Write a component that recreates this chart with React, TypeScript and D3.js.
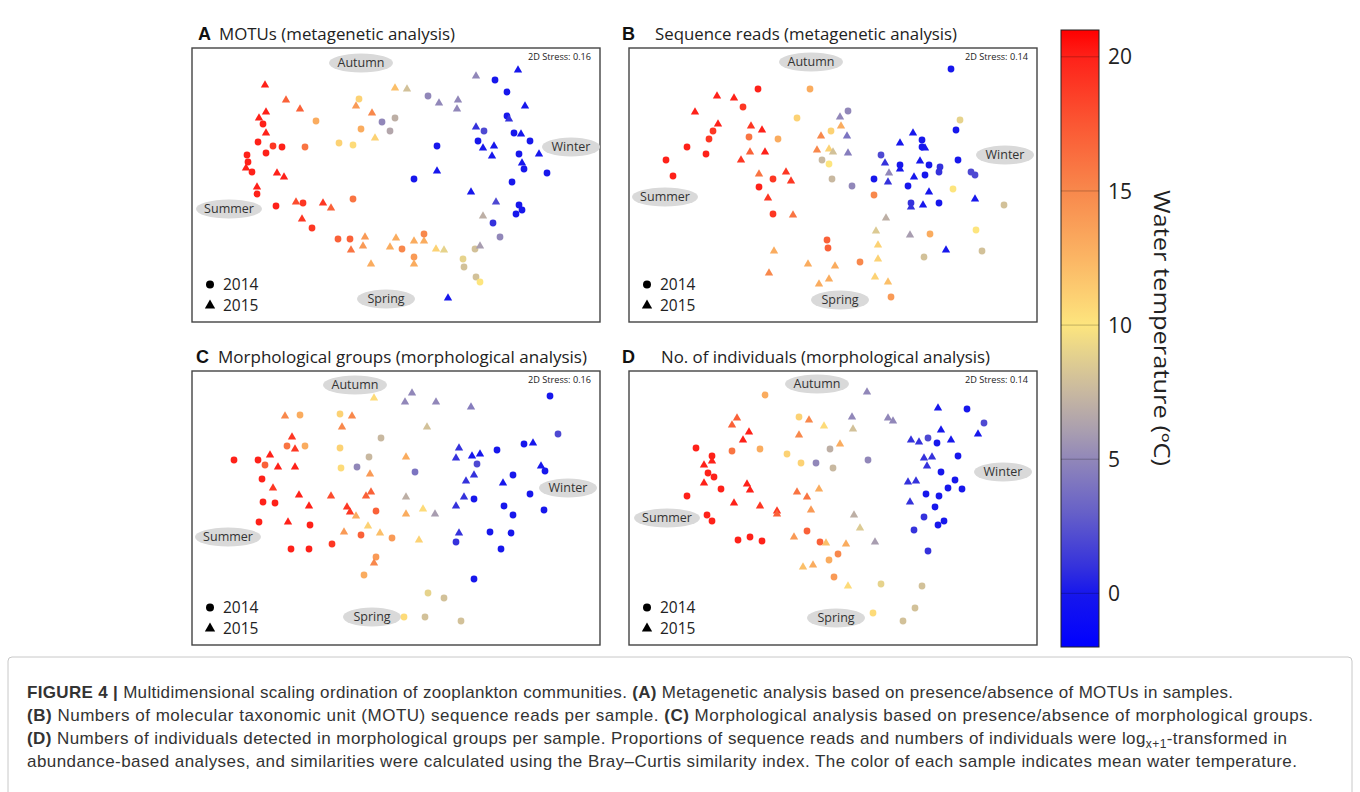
import React from 'react';
import * as d3 from 'd3';

// temperature colour ramp (°C)
const TEMP_STOPS = [-2, 0, 1, 3, 5, 6, 7.5, 9, 10, 12.5, 15, 17.5, 20, 21];
const TEMP_COLORS = ['#0000ff', '#1717ec', '#3532dc', '#6660c8', '#9187b9', '#a89db0', '#c8b8a0',
  '#e6d38c', '#fde57e', '#fbb564', '#f8884c', '#fb5733', '#fe2119', '#ff0000'];
const TEMP_TICKS = [0, 5, 10, 15, 20];
const TEMP_DOMAIN = [-2, 21];

// NMDS coordinates: [axis1, axis2, water temperature, year]
const mdsA = [
  [-1.31, 1.00, 20, 2015], [-1.10, 0.85, 17, 2015], [-0.96, 0.76, 17, 2015], [-1.30, 0.73, 20, 2015],
  [-1.37, 0.67, 20, 2015], [-1.33, 0.61, 20, 2014], [-1.30, 0.52, 20, 2015], [-0.80, 0.64, 13, 2014],
  [-0.37, 0.86, 11, 2014], [-0.40, 0.79, 14, 2015], [-0.24, 0.72, 15, 2015], [-0.14, 0.63, 5, 2014],
  [-0.01, 0.67, 7, 2014], [-0.06, 0.54, 6.5, 2014], [-0.21, 0.47, 11, 2015], [-0.35, 0.56, 13, 2014],
  [-0.57, 0.42, 11, 2014], [-0.43, 0.40, 10.5, 2014], [-0.01, 0.97, 12, 2015], [-1.38, 0.43, 20, 2014],
  [-1.23, 0.39, 19, 2014], [-1.14, 0.38, 20, 2014], [-0.91, 0.38, 16, 2014], [-1.30, 0.32, 20, 2014],
  [-1.49, 0.30, 20, 2014], [-1.48, 0.23, 20, 2014], [-1.50, 0.17, 20, 2015], [-1.44, 0.13, 20, 2014],
  [-1.19, 0.12, 20, 2015], [-1.12, 0.08, 20, 2015], [-1.39, -0.02, 20, 2015], [-1.39, -0.09, 20, 2014],
  [-1.20, -0.21, 20, 2014], [-1.00, -0.17, 18, 2015], [-0.93, -0.18, 19, 2014], [-0.73, -0.18, 19, 2015],
  [-0.65, -0.23, 17, 2015], [-0.43, -0.14, 16, 2014], [-0.94, -0.34, 19, 2015], [-0.84, -0.43, 19, 2014],
  [-0.58, -0.54, 17, 2014], [-0.46, -0.54, 17, 2014], [-0.45, -0.65, 16, 2015], [-0.33, -0.61, 14, 2015],
  [-0.31, -0.52, 14, 2015], [-0.25, -0.79, 13, 2015], [-0.06, -0.62, 13, 2015], [0.00, -0.53, 13, 2015],
  [0.11, 0.96, 8, 2015], [0.32, 0.89, 5, 2014], [0.43, 0.82, 5, 2015], [0.62, 0.85, 5, 2015],
  [0.61, 0.76, 5, 2015], [0.80, 1.09, 5, 2015], [0.99, 1.05, 0, 2014], [1.22, 1.15, 0, 2015],
  [1.11, 0.93, 0, 2014], [1.29, 0.79, 0, 2015], [1.11, 0.69, 0, 2014], [1.13, 0.66, 1, 2015],
  [0.80, 0.58, 1, 2015], [0.88, 0.54, 2, 2014], [1.18, 0.52, 0, 2014], [1.25, 0.51, 0, 2015],
  [1.34, 0.44, 0, 2014], [0.82, 0.44, 0, 2014], [0.87, 0.37, 0, 2015], [0.98, 0.39, 0, 2015],
  [0.96, 0.29, 0, 2015], [1.23, 0.31, 0, 2014], [1.43, 0.31, 0, 2015], [1.26, 0.22, 0, 2015],
  [1.28, 0.16, 0, 2014], [1.51, 0.12, 0, 2014], [0.41, 0.39, 0, 2014], [0.41, 0.14, 0, 2015],
  [0.18, 0.06, 0, 2014], [1.16, 0.03, 0, 2014], [0.75, -0.07, 0, 2015], [1.00, -0.17, 2, 2015],
  [1.23, -0.20, 0, 2014], [1.26, -0.25, 0, 2014], [1.20, -0.29, 0, 2014], [0.87, -0.31, 7, 2015],
  [0.97, -0.38, 1, 2014], [1.04, -0.52, 5, 2014], [0.18, -0.56, 13, 2015], [0.28, -0.56, 13, 2015],
  [0.28, -0.49, 15, 2014], [0.06, -0.64, 15, 2014], [0.40, -0.64, 11, 2015], [0.48, -0.65, 9, 2015],
  [0.18, -0.72, 14, 2014], [0.18, -0.79, 13, 2015], [0.79, -0.64, 8, 2014], [0.84, -0.61, 6, 2015],
  [0.67, -0.74, 9, 2014], [0.68, -0.82, 8, 2014], [0.80, -0.92, 8, 2014], [0.84, -0.97, 10, 2014],
  [0.52, -1.13, 0, 2015],
];

const mdsB = [
  [-0.75, 0.96, 20, 2014], [-0.23, 0.96, 13, 2014], [-1.16, 0.89, 20, 2015], [-0.99, 0.87, 20, 2015],
  [-0.90, 0.78, 19, 2014], [-1.38, 0.73, 20, 2015], [-0.36, 0.67, 11, 2014], [-1.15, 0.61, 20, 2015],
  [-1.20, 0.54, 19, 2014], [-0.82, 0.59, 19, 2015], [-0.71, 0.55, 20, 2015], [-1.24, 0.46, 19, 2014],
  [-0.84, 0.48, 16, 2014], [-0.55, 0.46, 13, 2014], [-0.02, 0.54, 11, 2014], [-0.12, 0.49, 15, 2015],
  [-1.46, 0.38, 20, 2014], [-1.27, 0.31, 20, 2014], [-0.92, 0.25, 19, 2015], [-0.83, 0.33, 17, 2015],
  [-0.68, 0.33, 20, 2015], [-0.16, 0.35, 15, 2015], [-0.04, 0.36, 11, 2015], [0.00, 0.33, 8, 2015],
  [-0.11, 0.25, 7.5, 2014], [-0.04, 0.21, 10, 2014], [-1.67, 0.25, 20, 2014], [-1.60, 0.09, 20, 2014],
  [-0.74, 0.11, 16, 2015], [-0.60, 0.06, 19, 2014], [-0.47, 0.13, 19, 2015], [-0.42, 0.04, 19, 2015],
  [-0.01, 0.06, 7.5, 2014], [-0.74, -0.02, 20, 2014], [-0.65, -0.13, 19, 2015], [-0.60, -0.29, 19, 2014],
  [-0.40, -0.30, 16, 2015], [-0.06, -0.55, 17, 2014], [-0.05, -0.63, 17, 2014], [-0.59, -0.66, 13, 2015],
  [-0.64, -0.88, 15, 2015], [-0.25, -0.79, 13, 2015], [-0.04, -0.94, 13, 2015], [-0.14, -0.99, 13, 2015],
  [0.02, -0.81, 13, 2015], [1.18, 1.16, 0, 2014], [0.15, 0.74, 5, 2014], [1.27, 0.65, 9, 2014],
  [0.07, 0.68, 5, 2015], [0.08, 0.59, 13, 2015], [0.14, 0.49, 4, 2015], [0.15, 0.32, 4.5, 2015],
  [1.23, 0.55, 0, 2014], [0.80, 0.52, 0, 2015], [0.67, 0.42, 0, 2015], [0.89, 0.45, 0, 2014],
  [0.89, 0.38, 0, 2014], [0.92, 0.37, 0, 2015], [0.48, 0.30, 2, 2014], [0.52, 0.22, 1, 2015],
  [0.67, 0.20, 0, 2014], [0.67, 0.16, 0, 2015], [0.87, 0.24, 0, 2015], [0.96, 0.20, 0, 2014],
  [1.07, 0.18, 1, 2014], [1.06, 0.13, 1, 2014], [1.25, 0.25, 0, 2014], [0.56, 0.12, 5, 2015],
  [0.55, 0.03, 1, 2015], [0.41, 0.06, 0, 2014], [0.81, 0.08, 0, 2015], [0.92, 0.10, 0, 2014],
  [0.75, -0.01, 0, 2014], [1.38, 0.13, 2, 2014], [1.42, 0.10, 2, 2014], [0.19, -0.01, 5, 2014],
  [0.41, -0.10, 15, 2014], [1.20, -0.04, 10, 2014], [0.96, -0.07, 0, 2015], [1.42, -0.14, 0, 2015],
  [0.78, -0.18, 1, 2014], [0.78, -0.22, 1, 2015], [0.90, -0.20, 0, 2015], [1.06, -0.18, 0, 2014],
  [1.71, -0.20, 8, 2014], [0.53, -0.33, 7, 2015], [0.43, -0.46, 8.5, 2015], [0.77, -0.50, 6, 2015],
  [0.97, -0.49, 13, 2014], [1.43, -0.45, 10, 2014], [0.45, -0.60, 11, 2015], [0.45, -0.74, 11, 2015],
  [0.91, -0.72, 8, 2014], [1.13, -0.65, 0, 2015], [1.49, -0.66, 8, 2014], [0.27, -0.77, 15, 2014],
  [0.42, -0.92, 11, 2015], [0.55, -0.97, 12, 2015], [0.58, -1.12, 14, 2014],
];

const mdsC = [
  [-0.22, 1.10, 10.5, 2015], [-1.11, 0.92, 15, 2015], [-0.96, 0.93, 13, 2014], [-0.56, 0.94, 11, 2014],
  [-0.44, 0.92, 15, 2015], [-0.54, 0.81, 15, 2015], [-0.15, 0.70, 7.5, 2014], [-1.04, 0.71, 19, 2015],
  [-1.09, 0.62, 16, 2014], [-1.01, 0.59, 19, 2015], [-0.91, 0.62, 13, 2014], [-0.56, 0.60, 11, 2014],
  [-0.27, 0.51, 7.5, 2014], [-1.26, 0.53, 20, 2015], [-1.62, 0.48, 20, 2014], [-1.38, 0.48, 20, 2014],
  [-1.31, 0.43, 17, 2014], [-1.18, 0.41, 20, 2015], [-1.01, 0.41, 20, 2015], [-0.55, 0.40, 10.5, 2014],
  [-0.39, 0.41, 5, 2014], [-0.26, 0.34, 14, 2015], [-1.34, 0.29, 20, 2014], [-1.23, 0.20, 19, 2015],
  [-1.33, 0.06, 20, 2014], [-1.21, 0.05, 20, 2014], [-0.97, 0.13, 20, 2015], [-0.65, 0.12, 18, 2015],
  [-0.25, 0.16, 17, 2015], [-0.30, 0.12, 17, 2015], [-0.87, 0.02, 20, 2015], [-0.49, 0.01, 19, 2015],
  [-0.46, -0.04, 19, 2015], [-0.40, -0.08, 13, 2015], [-0.20, -0.03, 17, 2014], [-1.37, -0.14, 20, 2014],
  [-1.08, -0.14, 20, 2015], [-0.86, -0.17, 20, 2014], [-0.28, -0.18, 11, 2015], [-0.52, -0.24, 14, 2015],
  [-0.35, -0.27, 17, 2014], [-0.16, -0.25, 12, 2015], [-0.04, -0.30, 14, 2014], [-1.05, -0.41, 20, 2014],
  [-0.87, -0.41, 20, 2014], [-0.64, -0.36, 19, 2014], [-0.20, -0.49, 14, 2014], [-0.22, -0.55, 15, 2015],
  [-0.32, -0.67, 13, 2014], [0.16, 1.15, 5, 2015], [0.09, 1.06, 5, 2015], [0.40, 1.06, 5, 2015],
  [0.75, 1.01, 4.5, 2015], [0.31, 0.81, 8, 2015], [1.54, 1.12, 0, 2014], [1.62, 0.74, 2, 2014],
  [0.10, 0.51, 13, 2015], [0.19, 0.36, 4, 2014], [0.63, 0.60, 1, 2015], [0.60, 0.50, 1, 2015],
  [0.76, 0.52, 0, 2015], [0.84, 0.54, 0, 2015], [0.81, 0.44, 2, 2014], [1.01, 0.58, 0, 2014],
  [1.28, 0.64, 0, 2014], [1.37, 0.65, 0, 2015], [1.45, 0.42, 0, 2015], [1.49, 0.37, 0, 2014],
  [0.78, 0.33, 1, 2015], [0.70, 0.27, 1, 2015], [1.17, 0.33, 0, 2014], [1.07, 0.25, 0, 2015],
  [1.34, 0.14, 0, 2014], [0.68, 0.11, 1, 2015], [0.78, 0.09, 0, 2014], [0.60, 0.02, 1, 2015],
  [1.08, 0.02, 0, 2014], [1.17, -0.07, 0, 2014], [1.48, -0.02, 0, 2014], [0.10, 0.11, 7, 2015],
  [0.27, -0.01, 10.5, 2015], [0.10, -0.06, 13, 2015], [0.39, -0.06, 6, 2015], [0.23, -0.32, 11, 2015],
  [0.63, -0.25, 1, 2015], [0.60, -0.34, 1, 2014], [0.94, -0.24, 0, 2014], [1.15, -0.25, 0, 2014],
  [1.05, -0.41, 0, 2014], [0.78, -0.71, 0, 2014], [0.32, -0.85, 9, 2014], [0.48, -0.90, 8, 2014],
  [0.08, -1.09, 10.5, 2014], [0.29, -1.09, 8, 2014], [0.65, -1.13, 8, 2014],
];

const mdsD = [
  [-0.68, 1.13, 13, 2014], [-0.96, 0.90, 17, 2015], [-1.01, 0.83, 17, 2015], [-0.34, 0.91, 11, 2014],
  [-0.24, 0.88, 15, 2015], [-0.09, 0.82, 10.5, 2015], [-0.84, 0.76, 20, 2015], [-0.90, 0.68, 20, 2015],
  [-0.34, 0.73, 15, 2015], [-1.37, 0.60, 20, 2014], [-1.01, 0.57, 16, 2014], [-0.73, 0.59, 13, 2014],
  [-0.46, 0.54, 11, 2014], [-0.03, 0.59, 7, 2014], [-0.32, 0.45, 11, 2014], [-0.17, 0.45, 5, 2014],
  [0.00, 0.40, 7.5, 2014], [-1.21, 0.52, 20, 2014], [-1.21, 0.47, 20, 2015], [-1.29, 0.43, 20, 2015],
  [-1.25, 0.35, 20, 2014], [-1.19, 0.31, 20, 2014], [-1.29, 0.25, 20, 2015], [-1.12, 0.19, 20, 2014],
  [-0.86, 0.24, 20, 2015], [-0.83, 0.18, 20, 2015], [-1.46, 0.12, 20, 2014], [-0.99, 0.05, 20, 2015],
  [-0.73, 0.02, 19, 2015], [-0.56, -0.03, 19, 2015], [-0.56, -0.06, 17, 2015], [-0.36, 0.16, 16, 2015],
  [-0.26, 0.11, 16, 2015], [-0.14, 0.19, 13, 2015], [-0.22, -0.02, 14, 2015], [-1.26, -0.07, 20, 2014],
  [-1.21, -0.13, 20, 2014], [-0.95, -0.32, 20, 2014], [-0.83, -0.29, 20, 2014], [-0.71, -0.33, 20, 2014],
  [-0.26, -0.23, 17, 2014], [-0.39, -0.29, 14, 2015], [-0.13, -0.34, 17, 2014], [-0.07, -0.35, 12, 2015],
  [-0.04, -0.52, 13, 2014], [-0.30, -0.59, 12, 2015], [-0.20, -0.57, 13, 2015], [0.01, -0.69, 14, 2014],
  [0.34, 1.16, 5, 2015], [0.19, 0.91, 5, 2015], [0.55, 0.90, 5, 2015], [0.60, 0.87, 5, 2015],
  [0.20, 0.79, 8, 2015], [0.07, 0.64, 13, 2015], [0.35, 0.48, 5, 2014], [1.05, 1.00, 0, 2015],
  [1.34, 0.99, 0, 2014], [1.51, 0.85, 2, 2014], [1.45, 0.74, 0, 2015], [1.08, 0.78, 0, 2015],
  [1.18, 0.68, 0, 2015], [0.78, 0.68, 1, 2015], [0.86, 0.66, 1, 2015], [0.95, 0.70, 2, 2014],
  [1.04, 0.65, 0, 2014], [1.25, 0.52, 0, 2014], [0.91, 0.50, 1, 2015], [0.99, 0.51, 1, 2015],
  [0.94, 0.42, 1, 2015], [1.08, 0.36, 0, 2014], [0.75, 0.26, 1, 2015], [0.83, 0.27, 1, 2015],
  [1.22, 0.28, 0, 2014], [1.15, 0.20, 0, 2014], [1.29, 0.19, 0, 2014], [0.93, 0.14, 0, 2014],
  [1.06, 0.12, 0, 2014], [0.77, 0.06, 1, 2015], [1.02, 0.01, 0, 2014], [0.91, -0.09, 1, 2014],
  [1.11, -0.13, 0, 2014], [1.05, -0.17, 0, 2014], [0.81, -0.22, 1, 2014], [0.95, -0.43, 1, 2014],
  [0.21, -0.07, 7, 2015], [0.27, -0.20, 8.5, 2015], [0.42, -0.34, 6, 2015], [0.13, -0.36, 13, 2015],
  [0.05, -0.46, 15, 2014], [0.15, -0.78, 10.5, 2015], [0.48, -0.76, 9, 2014], [0.89, -0.78, 8, 2014],
  [0.82, -1.00, 8, 2014], [0.40, -1.05, 10.5, 2014], [0.70, -1.13, 8, 2014],
];

// season annotations: [label, axis1, axis2]
const seasonsA = [['Autumn', -0.35, 1.22], ['Summer', -1.67, -0.24], ['Winter', 1.75, 0.38], ['Spring', -0.10, -1.14]];
const seasonsB = [['Autumn', -0.22, 1.23], ['Summer', -1.68, -0.12], ['Winter', 1.72, 0.30], ['Spring', 0.07, -1.15]];
const seasonsC = [['Autumn', -0.41, 1.23], ['Summer', -1.68, -0.29], ['Winter', 1.72, 0.20], ['Spring', -0.24, -1.09]];
const seasonsD = [['Autumn', -0.16, 1.24], ['Summer', -1.66, -0.10], ['Winter', 1.70, 0.36], ['Spring', 0.03, -1.10]];

const PANELS = [
  { letter: 'A', title: 'MOTUs (metagenetic analysis)', stress: '2D Stress: 0.16', points: mdsA, seasons: seasonsA },
  { letter: 'B', title: 'Sequence reads (metagenetic analysis)', stress: '2D Stress: 0.14', points: mdsB, seasons: seasonsB },
  { letter: 'C', title: 'Morphological groups (morphological analysis)', stress: '2D Stress: 0.16', points: mdsC, seasons: seasonsC },
  { letter: 'D', title: 'No. of individuals (morphological analysis)', stress: '2D Stress: 0.14', points: mdsD, seasons: seasonsD },
];

const YEARS = [2014, 2015];

// layout
const FRAMES = [
  { x: 192, y: 48, letterX: 198, titleX: 219, titleW: 236 },
  { x: 629, y: 48, letterX: 622, titleX: 655, titleW: 302 },
  { x: 192, y: 371, letterX: 196, titleX: 218, titleW: 369 },
  { x: 629, y: 371, letterX: 622, titleX: 661, titleW: 329 },
];
const PW = 408;
const PH = 274;
const SEASON_RX: Record<string, number> = { Autumn: 32, Summer: 33, Winter: 29, Spring: 29 };
const FONT = "'Open Sans', 'Noto Sans', sans-serif";
const CAP_FONT = "'Liberation Sans', Arial, sans-serif";

const tempColor = d3.scaleLinear<string>().domain(TEMP_STOPS).range(TEMP_COLORS)
  .interpolate(d3.interpolateRgb).clamp(true);

const symbolPath = (year: number, size: number) =>
  d3.symbol().type(year === 2014 ? d3.symbolCircle : d3.symbolTriangle).size(size)() as string;

function Panel({ panel, frame }: any) {
  const sx = d3.scaleLinear().domain([-2.04, 2.04]).range([frame.x, frame.x + PW]);
  const sy = d3.scaleLinear().domain([-1.37, 1.37]).range([frame.y + PH, frame.y]);
  const titleY = frame.y - 8;
  return (
    <g>
      <text x={frame.letterX} y={titleY} fontFamily="'Liberation Sans', Arial, sans-serif" fontWeight="bold"
        fontSize={18} fill="#111">{panel.letter}</text>
      <text x={frame.titleX} y={titleY} fontFamily={FONT} fontSize={16.5} fill="#222"
        textLength={frame.titleW} lengthAdjust="spacingAndGlyphs">{panel.title}</text>
      <rect x={frame.x} y={frame.y} width={PW} height={PH} fill="#fff" stroke="#444" strokeWidth={1.4} />
      <text x={frame.x + PW - 9} y={frame.y + 12} textAnchor="end" fontFamily={FONT} fontSize={8.5}
        fill="#222" textLength={63} lengthAdjust="spacingAndGlyphs">{panel.stress}</text>
      {panel.seasons.map(([label, a, b]: any) => (
        <g key={label} transform={`translate(${sx(a)},${sy(b)})`}>
          <ellipse rx={SEASON_RX[label]} ry={9.5} fill="#d9d9d9" />
          <text textAnchor="middle" dy="0.35em" fontFamily={FONT} fontSize={12.5} fill="#333">{label}</text>
        </g>
      ))}
      {panel.points.map((d: number[], i: number) => (
        <path key={i} d={symbolPath(d[3], d[3] === 2014 ? 36 : 30)}
          transform={`translate(${sx(d[0])},${sy(d[1])})`} fill={tempColor(d[2])} />
      ))}
      {YEARS.map((yr, i) => {
        const by = frame.y + PH - 32 + i * 21;
        return (
          <g key={yr}>
            <path d={symbolPath(yr, yr === 2014 ? 50 : 46)} transform={`translate(${frame.x + 18},${by - 5.5})`} fill="#000" />
            <text x={frame.x + 31} y={by} fontFamily={FONT} fontSize={15.5} fill="#222">{yr}</text>
          </g>
        );
      })}
    </g>
  );
}

function ColorBar() {
  const x = 1061;
  const w = 38;
  const ty = d3.scaleLinear().domain(TEMP_DOMAIN).range([647, 30]);
  const span = TEMP_DOMAIN[1] - TEMP_DOMAIN[0];
  return (
    <g>
      <defs>
        <linearGradient id="tempGrad" x1="0" y1="1" x2="0" y2="0">
          {TEMP_STOPS.map((t, i) => (
            <stop key={i} offset={(t - TEMP_DOMAIN[0]) / span} stopColor={TEMP_COLORS[i]} />
          ))}
        </linearGradient>
      </defs>
      <rect x={x} y={ty(TEMP_DOMAIN[1])} width={w} height={ty(TEMP_DOMAIN[0]) - ty(TEMP_DOMAIN[1])}
        fill="url(#tempGrad)" stroke="#222" strokeWidth={1} />
      {TEMP_TICKS.map(t => (
        <g key={t}>
          <line x1={x} x2={x + w} y1={ty(t)} y2={ty(t)} stroke="#000" strokeOpacity={0.3} strokeWidth={0.8} />
          <text x={x + 47} y={ty(t)} dy="0.36em" fontFamily={FONT} fontSize={21} fill="#222">{t}</text>
        </g>
      ))}
      <text transform="translate(1161,328) rotate(90)" textAnchor="middle" dy="0.35em" fontFamily={FONT}
        fontSize={21} fill="#222" textLength={276} lengthAdjust="spacingAndGlyphs">Water temperature (ºC)</text>
    </g>
  );
}

// caption lines end at these x positions in the reference
const CAPTION_WIDTHS = [1206, 1286, 1260, 1270];

function Caption() {
  const b = (s: string) => <tspan fontWeight="bold">{s}</tspan>;
  const common = { x: 27, fontFamily: CAP_FONT, fontSize: 17, fill: '#333', lengthAdjust: 'spacing' };
  return (
    <g>
      <rect x={8} y={657} width={1344} height={150} rx={4} fill="none" stroke="#c8c8c8" strokeWidth={1} />
      <text {...common} y={698} textLength={CAPTION_WIDTHS[0]}>
        {b('FIGURE 4 |')}{' Multidimensional scaling ordination of zooplankton communities. '}{b('(A)')}
        {' Metagenetic analysis based on presence/absence of MOTUs in samples.'}
      </text>
      <text {...common} y={721} textLength={CAPTION_WIDTHS[1]}>
        {b('(B)')}{' Numbers of molecular taxonomic unit (MOTU) sequence reads per sample. '}{b('(C)')}
        {' Morphological analysis based on presence/absence of morphological groups.'}
      </text>
      <text {...common} y={744} textLength={CAPTION_WIDTHS[2]}>
        {b('(D)')}{' Numbers of individuals detected in morphological groups per sample. Proportions of sequence reads and numbers of individuals were log'}
        <tspan fontSize={12} dy={4}>{'x+1'}</tspan>
        <tspan dy={-4}>{'-transformed in'}</tspan>
      </text>
      <text {...common} y={767} textLength={CAPTION_WIDTHS[3]}>
        {'abundance-based analyses, and similarities were calculated using the Bray\u2013Curtis similarity index. The color of each sample indicates mean water temperature.'}
      </text>
    </g>
  );
}

export default function App() {
  return (
    <div style={{ position: 'absolute', left: 0, top: 0 }}>
      <svg width={1360} height={792} style={{ display: 'block', background: '#fff' }}>
        {PANELS.map((p, i) => <Panel key={p.letter} panel={p} frame={FRAMES[i]} />)}
        <ColorBar />
        <Caption />
      </svg>
    </div>
  );
}
